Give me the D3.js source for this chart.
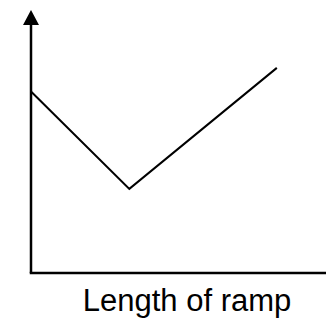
<!DOCTYPE html>
<html>
<head>
    <meta charset="utf-8">
    <title>Length of ramp</title>
    <script src="https://d3js.org/d3.v7.min.js"></script>
    <style>
        body { margin: 0; background: #fff; }
        .axis-line { stroke: #000; stroke-width: 2.5; }
        .line { fill: none; stroke: #000; stroke-width: 2; }
        .axis-label { font-family: Arial, "Liberation Sans", sans-serif; font-size: 31px; }
    </style>
</head>
<body>
    <div id="chart"></div>
    <script>
        // data (arbitrary units, no tick labels in the original)
        const rampLength = [0, 10, 25];
        const values = [69, 32, 78];
        const xLabel = "Length of ramp";

        const width = 326, height = 322;
        const x = d3.scaleLinear().domain([0, 30]).range([31, 326]);
        const y = d3.scaleLinear().domain([0, 100]).range([273, 10]);

        const svg = d3.select("#chart")
            .append("svg")
            .attr("width", width)
            .attr("height", height);

        // x axis
        svg.append("line")
            .attr("class", "axis-line")
            .attr("x1", x(0) - 1.25).attr("x2", width)
            .attr("y1", y(0)).attr("y2", y(0));

        // y axis
        svg.append("line")
            .attr("class", "axis-line")
            .attr("x1", x(0)).attr("x2", x(0))
            .attr("y1", y(0)).attr("y2", y(100) + 10);

        // arrow head
        svg.append("path")
            .attr("d", `M${x(0)},${y(100)} L${x(0) - 8},${y(100) + 15} L${x(0) + 8},${y(100) + 15} Z`)
            .attr("fill", "#000");

        const line = d3.line()
            .x((d, i) => x(rampLength[i]))
            .y(d => y(d));

        svg.append("path")
            .datum(values)
            .attr("class", "line")
            .attr("d", line);

        svg.append("text")
            .attr("class", "axis-label")
            .attr("x", 187)
            .attr("y", 311)
            .attr("text-anchor", "middle")
            .text(xLabel);
    </script>
</body>
</html>
